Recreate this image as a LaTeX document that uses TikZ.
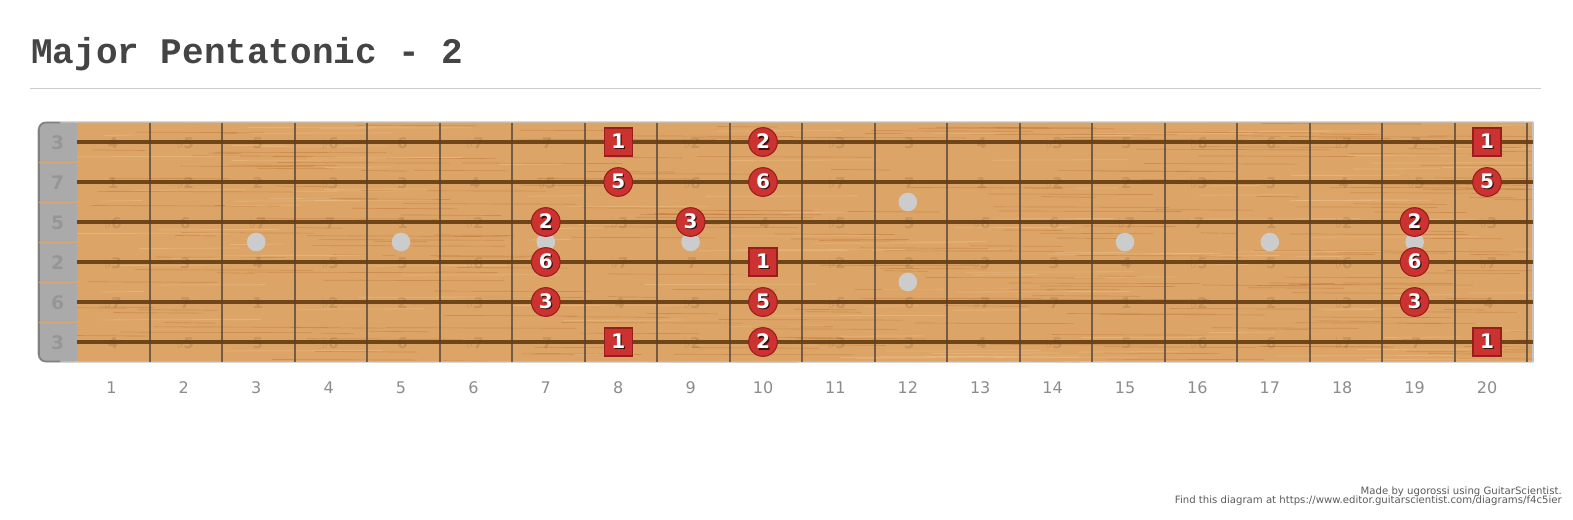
\documentclass[tikz,border=0pt]{standalone}
\usepackage{fontspec}
\setmainfont{DejaVu Sans}
\newfontfamily\titlefont{Liberation Mono}

\definecolor{wood}{RGB}{220,164,102}
\definecolor{woodstreak}{RGB}{190,120,58}
\definecolor{woodlight}{RGB}{238,192,136}
\definecolor{nutgray}{RGB}{170,170,170}
\definecolor{nutdigit}{RGB}{150,150,150}
\definecolor{nutline}{RGB}{214,168,122}
\definecolor{boardedge}{RGB}{195,195,195}
\definecolor{stringbrown}{RGB}{100,60,18}
\definecolor{fretwire}{RGB}{96,80,64}
\definecolor{inlay}{RGB}{204,204,204}
\definecolor{notered}{RGB}{204,50,48}
\definecolor{noteedge}{RGB}{150,30,28}
\definecolor{shadowcol}{RGB}{55,18,18}
\definecolor{titlegray}{RGB}{68,68,68}
\definecolor{rulegray}{RGB}{204,204,204}
\definecolor{fretnumgray}{RGB}{140,140,140}
\definecolor{creditgray}{RGB}{90,90,90}

% digit with a small dark shadow
\newcommand{\sd}[1]{\makebox[0pt][l]{\kern1pt\raisebox{-1pt}{\textcolor{shadowcol}{#1}}}\textcolor{white}{#1}}
% interval name for a semitone 0..11
\newcommand{\ivname}[1]{\ifcase#1 1\or ♭2\or 2\or ♭3\or 3\or 4\or ♭5\or 5\or ♭6\or 6\or ♭7\or 7\fi}
% fret/string/degree of the scale notes
\newcommand{\scalenotes}{7/3/2,7/4/6,7/5/3,8/2/5,9/3/3,10/1/2,10/2/6,10/5/5,10/6/2,19/3/2,19/4/6,19/5/3,20/2/5}
\newcommand{\rootnotes}{8/1,8/6,10/4,20/1,20/6}

\begin{document}
\begin{tikzpicture}[x=0.75pt,y=-0.75pt,
    note/.style={circle,fill=notered,draw=noteedge,line width=0.8pt,minimum size=21.5pt,inner sep=0pt,
      font=\fontsize{15}{15}\selectfont\bfseries},
    root/.style={note,rectangle,minimum size=21pt},
    interval/.style={font=\fontsize{11}{11}\selectfont\bfseries,text=black,text opacity=0.1,inner sep=0pt},
    nutnum/.style={font=\fontsize{14}{14}\selectfont\bfseries,text=nutdigit,inner sep=0pt},
    fretnum/.style={font=\fontsize{12}{12}\selectfont,text=fretnumgray,inner sep=0pt},
    credit/.style={font=\fontsize{7.6}{7.6}\selectfont,text=creditgray,anchor=base east,inner sep=0pt}]
    \useasboundingbox (0,0) rectangle (1573,519);

    % Title and rule
    \node[anchor=base west,inner sep=0pt,text=titlegray,font=\titlefont\fontsize{27}{27}\selectfont\bfseries]
        (title) at (31,63) {Major Pentatonic - 2};
    \draw[rulegray] (30,88) -- (1541,88);

    % Draw nut and fretboard
    \fill[nutgray,rounded corners=6pt] (38,122) rectangle (82,362);
    \fill[wood] (77,122) rectangle (1533,362);
    \pgfmathsetseed{17}
    \begin{scope}
        \clip (77,122) rectangle (1533,362);
        \foreach \i in {1,...,260}{
            \pgfmathsetmacro{\sx}{60+rnd*1480}
            \pgfmathsetmacro{\sy}{122+rnd*240}
            \pgfmathsetmacro{\sl}{30+rnd*170}
            \draw[woodstreak,line width=0.5pt,opacity=0.5] (\sx,\sy) -- ++(\sl,0.6);
        }
        \foreach \i in {1,...,140}{
            \pgfmathsetmacro{\sx}{60+rnd*1480}
            \pgfmathsetmacro{\sy}{122+rnd*240}
            \pgfmathsetmacro{\sl}{30+rnd*150}
            \draw[woodlight,line width=0.6pt,opacity=0.55] (\sx,\sy) -- ++(\sl,-0.5);
        }
    \end{scope}
    \draw[boardedge,line width=0.8pt,rounded corners=6pt] (1533,122) -- (38,122) -- (38,362) -- (1533,362);
    \draw[boardedge,line width=0.8pt] (1533,122) -- (1533,362);
    \draw[nutgray!75!black,line width=1.2pt,rounded corners=5pt] (60,122.6) -- (39,122.6) -- (39,361.4) -- (60,361.4);

    % Nut cells and open-string intervals
    \foreach \s in {1,...,5}
        \draw[nutline,line width=0.6pt] (39,{142+40*\s-20}) -- (77,{142+40*\s-20});
    \foreach \t [count=\s] in {3,7,5,2,6,3}
        \node[nutnum] (nut\s) at (57.5,{143+40*(\s-1)}) {\t};

    % Inlay dots
    \foreach \f in {3,5,7,9,15,17,19}
        \fill[inlay] ({39+72.4*\f},242) circle (9.3);
    \fill[inlay] ({39+72.4*12},202) circle (9.3);
    \fill[inlay] ({39+72.4*12},282) circle (9.3);

    % Faint interval names on every free fret
    \foreach \f/\s/\t in \scalenotes \expandafter\gdef\csname used-\s-\f\endcsname{};
    \foreach \f/\s in \rootnotes \expandafter\gdef\csname used-\s-\f\endcsname{};
    \foreach \o [count=\s] in {4,11,7,2,9,4}
        \foreach \f in {1,...,20}{
            \ifcsname used-\s-\f\endcsname\else
            \pgfmathtruncatemacro{\iv}{mod(\o+\f,12)}
            \node[interval] (iv\s-\f) at ({40.5+72.4*\f},{143+40*(\s-1)}) {\ivname{\iv}};
            \fi
        }

    % Frets and strings
    \foreach \k in {1,...,20}
        \draw[fretwire,line width=1.5pt,opacity=0.85] ({77+72.5*\k},122.5) -- ({77+72.5*\k},361.5);
    \foreach \s in {1,...,6}
        \draw[stringbrown,line width=2.4pt,opacity=0.9] (77,{142+40*(\s-1)}) -- (1533,{142+40*(\s-1)});

    % Scale notes
    \foreach \f/\s/\t in \scalenotes
        \node[note] (n\s-\f) at ({39+72.4*\f},{142+40*(\s-1)}) {\sd{\t}};
    \foreach \f/\s in \rootnotes
        \node[root] (n\s-\f) at ({39+72.4*\f},{142+40*(\s-1)}) {\sd{1}};

    % Fret numbers
    \foreach \f in {1,...,20}
        \node[fretnum] (fret\f) at ({39+72.4*\f},388) {\f};

    % Credits
    \node[credit] (made) at (1562,494.7) {Made by ugorossi using GuitarScientist.};
    \node[credit] (find) at (1562,503.7) {Find this diagram at https://www.editor.guitarscientist.com/diagrams/f4c5ier};
\end{tikzpicture}
\end{document}
